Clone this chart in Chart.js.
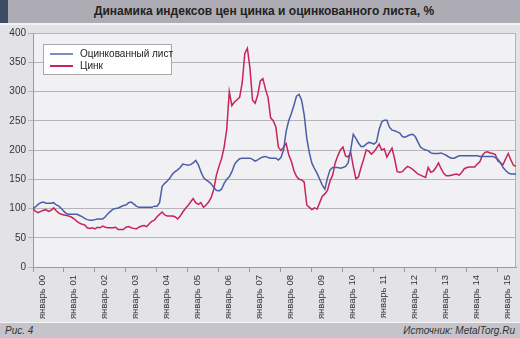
<!DOCTYPE html>
<html lang="ru">
<head>
<meta charset="utf-8">
<script src="https://cdn.jsdelivr.net/npm/chart.js@4/dist/chart.umd.min.js"></script>
<style>
    body { margin: 0; width: 520px; height: 338px; overflow: hidden; background: #e3e3e7; font-family: "Liberation Sans", Arial, sans-serif; position: relative; }
    #head { position: absolute; left: 0; top: 0; width: 520px; height: 23px; background: #adacb4; border-bottom: 2px solid #f4f4f6; }
    #head .mark { position: absolute; left: 0; top: 0; width: 8px; height: 23px; background: #3c4c65; }
    #head .title { position: absolute; left: 8px; right: 0; top: 0; line-height: 23px; text-align: center; font-weight: bold; font-size: 12px; color: #222; }
    #foot { position: absolute; left: 0; top: 322px; width: 520px; height: 16px; background: #c5c4ca; border-top: 1px solid #f4f4f6; font-style: italic; font-size: 10px; color: #333; line-height: 16px; }
    #foot .l { position: absolute; left: 5px; }
    #foot .r { position: absolute; right: 5px; }
    #chart { position: absolute; left: 0; top: 0; }
    #legend { position: absolute; left: 43px; top: 44px; width: 127px; height: 29px; background: #fff; border: 1px solid #a8a8a8; font-size: 10px; color: #222; }
    #legend div { position: absolute; left: 36px; white-space: nowrap; line-height: 12px; }
    #legend span { position: absolute; left: -30px; top: 5px; width: 23px; height: 0; border-top: 2px solid; }
</style>
</head>
<body>
<div id="head"><div class="mark"></div><div class="title">Динамика индексов цен цинка и оцинкованного листа, %</div></div>
<canvas id="chart" width="520" height="338"></canvas>
<div id="legend">
    <div style="top:3px"><span style="border-color:#7f8bc4"></span>Оцинкованный лист</div>
    <div style="top:15px"><span style="border-color:#c8235a"></span>Цинк</div>
</div>
<div id="foot"><span class="l">Рис. 4</span><span class="r">Источник: MetalTorg.Ru</span></div>
<script>
// Подписи лет (каждый 12-й месяц, начиная с января 2000)
var yearLabels = ['январь 00', 'январь 01', 'январь 02', 'январь 03', 'январь 04', 'январь 05', 'январь 06', 'январь 07',
    'январь 08', 'январь 09', 'январь 10', 'январь 11', 'январь 12', 'январь 13', 'январь 14', 'январь 15'];
var yTicks = [0, 50, 100, 150, 200, 250, 300, 350, 400];

// Оцинкованный лист, помесячно с января 2000
var sheet = [
    100, 103, 107, 110, 111, 109, 109, 109, 110, 106, 104, 100,
    95, 91, 90, 90, 90, 90, 88, 86, 83, 81, 80, 80,
    81, 82, 82, 82, 86, 91, 95, 99, 100, 101, 103, 105,
    106, 110, 111, 108, 104, 102, 102, 102, 102, 102, 102, 104,
    104, 110, 138, 143, 147, 152, 159, 163, 166, 170, 176, 175,
    174, 175, 178, 182, 175, 163, 153, 149, 146, 142, 136, 131,
    130, 133, 143, 150, 154, 163, 175, 181, 185, 186, 186, 186,
    186, 184, 181, 183, 186, 188, 189, 187, 186, 186, 186, 183,
    187, 200, 232, 250, 262, 276, 292, 295, 285, 260, 220, 195,
    177, 168, 160, 150, 140, 133, 152, 166, 170, 170, 170, 169,
    170, 172, 178, 200, 227, 220, 212, 206, 206, 210, 213, 212,
    210, 214, 235, 248, 251, 251, 239, 234, 233, 231, 229, 223,
    222, 224, 226, 227, 223, 214, 205, 202, 200, 199, 195, 194,
    194, 194, 195, 193, 191, 188, 186, 186, 188, 190, 190, 190,
    190, 190, 190, 190, 190, 189, 189, 189, 189, 189, 189, 187,
    184, 178, 170, 165, 161, 159, 159, 159
];

// Цинк, помесячно с января 2000
var zinc = [
    100, 95, 93, 95, 97, 98, 95, 97, 101, 96, 92, 90,
    89, 88, 87, 85, 82, 78, 75, 73, 72, 67, 66, 67,
    65, 68, 67, 70, 68, 67, 67, 67, 68, 64, 64, 64,
    68, 69, 67, 66, 65, 68, 70, 71, 69, 74, 78, 80,
    86, 90, 94, 89, 87, 87, 87, 86, 82, 87, 94, 100,
    105, 111, 117, 110, 107, 110, 102, 106, 111, 119, 133, 157,
    172, 185, 205, 235, 300, 276, 282, 286, 290, 315, 365, 374,
    340, 285, 280, 294, 318, 322, 304, 290, 255, 250, 240, 205,
    199, 205, 211, 192, 181, 165, 155, 150, 149, 145, 106, 102,
    98, 101, 99, 110, 121, 125, 131, 147, 157, 178, 190, 200,
    205, 190, 188, 196, 172, 151, 154, 170, 184, 200, 198, 193,
    197, 203, 210, 200, 202, 188, 196, 203, 185, 163, 162, 163,
    168, 172, 170, 167, 163, 159, 157, 155, 153, 170, 162, 164,
    170, 178, 168, 160, 156, 156, 157, 158, 159, 157, 162, 168,
    170, 171, 171, 171, 176, 180, 191, 196, 197, 195, 194, 192,
    181, 178, 175, 185, 194, 183, 174, 172
];

// Точки {x: номер месяца, y: значение}
function toPoints(arr) {
    return arr.map(function(v, i) { return { x: i, y: v }; });
}

// Фон области построения и правая рамка
var plotBg = {
    id: 'plotBg',
    beforeDraw: function(chart) {
        var a = chart.chartArea, ctx = chart.ctx;
        ctx.save();
        ctx.fillStyle = '#f1f1f3';
        ctx.fillRect(a.left, a.top, a.right - a.left, a.bottom - a.top);
        ctx.strokeStyle = '#b4b4b8';
        ctx.lineWidth = 1;
        ctx.beginPath();
        ctx.moveTo(Math.round(a.right) - 0.5, a.top);
        ctx.lineTo(Math.round(a.right) - 0.5, a.bottom);
        ctx.stroke();
        ctx.restore();
    }
};

new Chart(document.getElementById('chart'), {
    type: 'line',
    data: {
        datasets: [{
            label: 'Оцинкованный лист',
            data: toPoints(sheet),
            borderColor: '#4a5ea8',
            borderWidth: 1.5,
            pointRadius: 0,
            tension: 0
        }, {
            label: 'Цинк',
            data: toPoints(zinc),
            borderColor: '#c8235a',
            borderWidth: 1.5,
            pointRadius: 0,
            tension: 0
        }]
    },
    plugins: [plotBg],
    options: {
        responsive: false,
        animation: false,
        layout: { padding: { left: 0, top: 33, right: 4, bottom: 0 } },
        plugins: {
            legend: { display: false },
            tooltip: { enabled: false }
        },
        scales: {
            x: {
                type: 'linear',
                min: 0,
                max: zinc.length - 1,
                afterBuildTicks: function(scale) {
                    scale.ticks = yearLabels.map(function(l, i) { return { value: i * 12 }; });
                },
                afterFit: function(scale) { scale.height = 71; },
                grid: { drawOnChartArea: false, drawTicks: true, tickLength: 5, color: '#9a9a9e' },
                border: { display: true, color: '#9a9a9e' },
                ticks: {
                    autoSkip: false,
                    maxRotation: 90,
                    minRotation: 90,
                    labelOffset: 9,
                    padding: 3,
                    color: '#333',
                    font: { family: '"Liberation Sans", Arial, sans-serif', size: 9.5 },
                    callback: function(v) { return yearLabels[Math.round(v / 12)]; }
                }
            },
            y: {
                min: 0,
                max: 400,
                afterBuildTicks: function(scale) {
                    scale.ticks = yTicks.map(function(v) { return { value: v }; });
                },
                afterFit: function(scale) { scale.width = 33; },
                grid: { color: '#b6b6ba', tickLength: 5, drawTicks: true },
                border: { display: true, color: '#9a9a9e' },
                ticks: {
                    padding: 2,
                    color: '#333',
                    font: { family: '"Liberation Sans", Arial, sans-serif', size: 10 }
                }
            }
        }
    }
});
</script>
</body>
</html>
